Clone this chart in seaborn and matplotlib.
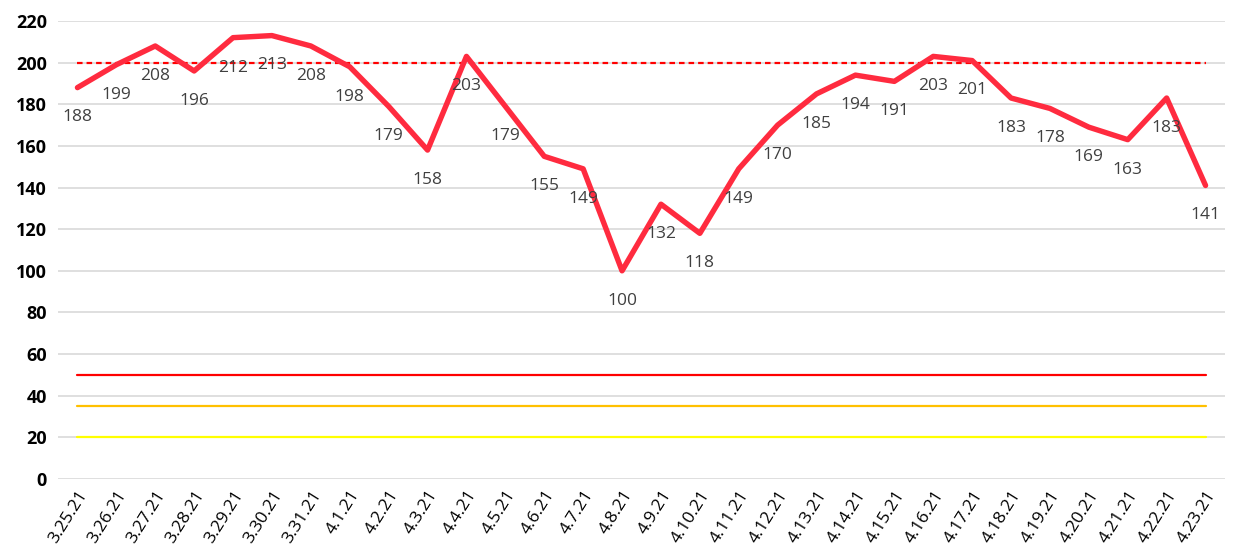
import matplotlib
matplotlib.use("Agg")
import matplotlib.pyplot as plt
import seaborn as sns
import pandas as pd
import numpy as np

dates = ["3.25.21", "3.26.21", "3.27.21", "3.28.21", "3.29.21", "3.30.21", "3.31.21",
         "4.1.21", "4.2.21", "4.3.21", "4.4.21", "4.5.21", "4.6.21", "4.7.21", "4.8.21",
         "4.9.21", "4.10.21", "4.11.21", "4.12.21", "4.13.21", "4.14.21", "4.15.21",
         "4.16.21", "4.17.21", "4.18.21", "4.19.21", "4.20.21", "4.21.21", "4.22.21", "4.23.21"]
values = [188, 199, 208, 196, 212, 213, 208, 198, 179, 158, 203, 179, 155, 149, 100,
          132, 118, 149, 170, 185, 194, 191, 203, 201, 183, 178, 169, 163, 183, 141]
thresholds = [200, 50, 35, 20]
threshold_colors = ["#FF0000", "#FF0000", "#FFC000", "#FFFF00"]
threshold_styles = [(0, (2.5, 1.8)), "-", "-", "-"]
y_ticks = list(range(0, 221, 20))

sns.set_style("white")
plt.rcParams['font.family'] = ['Open Sans', 'DejaVu Sans']

df = pd.DataFrame({"idx": np.arange(len(dates)), "value": values})

fig = plt.figure(figsize=(12.46, 5.52), dpi=100)
ax = fig.add_axes([58/1246, 1-479/552, (1225-58)/1246, (479-21)/552])

for t, c, ls in zip(thresholds, threshold_colors, threshold_styles):
    ax.plot([0, len(dates)-1], [t, t], color=c, lw=1.6, linestyle=ls, zorder=2)

sns.lineplot(data=df, x="idx", y="value", ax=ax, color="#FF2B3F", lw=3.9, zorder=3)

for i, v in enumerate(values):
    ax.annotate(str(v), (i, v), xytext=(0, -21.5), textcoords="offset points",
                ha="center", va="center", fontsize=12.5, color="#404040", zorder=4)

ax.set_xlim(-0.5, len(dates)-0.5)
ax.set_ylim(0, 220)
ax.set_yticks(y_ticks)
ax.set_yticklabels([str(t) for t in y_ticks], fontweight="bold", fontsize=13, color="black")
ax.set_xticks(np.arange(len(dates)))
ax.set_xticklabels(dates, rotation=58, ha="right", rotation_mode="anchor", fontsize=12.5, color="black")
ax.tick_params(axis="both", length=0, pad=6)
ax.tick_params(axis="y", pad=8)
ax.grid(axis="y", color="#D9D9D9", lw=1.2)
ax.set_axisbelow(True)
for s in ax.spines.values():
    s.set_visible(False)
ax.set_xlabel("")
ax.set_ylabel("")

fig.savefig("out.png", dpi=100)
